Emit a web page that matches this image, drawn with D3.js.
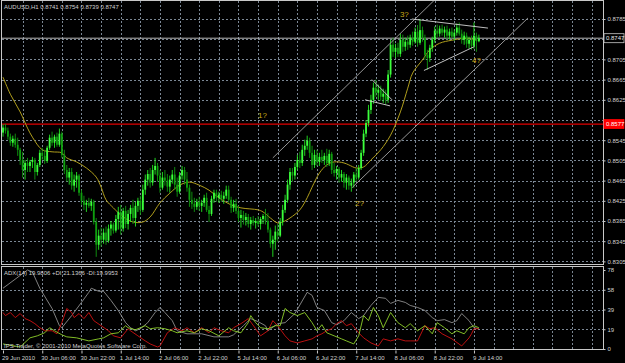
<!DOCTYPE html>
<html>
<head>
<meta charset="utf-8">
<title>AUDUSD,H1</title>
<script src="https://cdn.jsdelivr.net/npm/d3@7"></script>
<style>
  html, body { margin: 0; padding: 0; background: #000; }
  svg { display: block; }
  text { font-family: "Liberation Sans", Arial, sans-serif; font-size: 6px; fill: #d0d0d0; }
</style>
</head>
<body>
<svg id="chart" width="625" height="363"></svg>
<script>
// ========== values ==========
// H1 bars, bar 0 = 29 Jun 14:00, last bar = 9 Jul 16:00
var opens = [
  .8560,.8570,.8564,.8552,.8540,.8548,.8536,.8526,.8506,.8486,
  .8500,.8494,.8502,.8506,.8482,.8496,.8520,.8514,.8504,.8530,
  .8550,.8540,.8552,.8536,.8558,.8516,.8486,.8471,.8482,.8455,
  .8467,.8475,.8441,.8425,.8417,.8421,.8415,.8423,.8383,.8338,
  .8356,.8348,.8362,.8346,.8370,.8378,.8366,.8389,.8403,.8370,
  .8405,.8379,.8399,.8411,.8391,.8415,.8425,.8407,.8447,.8467,
  .8478,.8461,.8486,.8494,.8475,.8451,.8471,.8465,.8453,.8467,
  .8477,.8457,.8443,.8475,.8486,.8467,.8451,.8427,.8419,.8413,
  .8423,.8415,.8421,.8431,.8407,.8399,.8429,.8441,.8431,.8437,
  .8429,.8435,.8447,.8427,.8411,.8419,.8405,.8391,.8397,.8387,
  .8393,.8379,.8387,.8381,.8385,.8379,.8389,.8395,.8385,.8368,
  .8340,.8348,.8364,.8356,.8383,.8407,.8427,.8457,.8482,.8475,
  .8492,.8506,.8500,.8526,.8534,.8544,.8520,.8496,.8516,.8502,
  .8512,.8506,.8514,.8500,.8518,.8486,.8480,.8488,.8471,.8478,
  .8461,.8471,.8455,.8461,.8477,.8471,.8490,.8520,.8558,.8579,
  .8605,.8625,.8649,.8639,.8645,.8631,.8637,.8625,.8675,.8734,
  .8720,.8728,.8716,.8744,.8730,.8740,.8734,.8748,.8740,.8760,
  .8738,.8763,.8748,.8714,.8708,.8728,.8744,.8762,.8756,.8766,
  .8758,.8764,.8752,.8760,.8750,.8758,.8768,.8756,.8744,.8752,
  .8736,.8744,.8732,.8752,.8741];
var highs = [
  .8576,.8577,.8570,.8558,.8554,.8558,.8550,.8530,.8522,.8506,
  .8510,.8506,.8512,.8510,.8500,.8526,.8530,.8526,.8534,.8556,
  .8562,.8556,.8560,.8568,.8562,.8526,.8496,.8490,.8490,.8477,
  .8482,.8478,.8447,.8435,.8427,.8431,.8429,.8427,.8391,.8368,
  .8372,.8370,.8374,.8378,.8385,.8382,.8397,.8413,.8417,.8411,
  .8415,.8407,.8417,.8427,.8423,.8431,.8435,.8457,.8477,.8486,
  .8490,.8496,.8510,.8500,.8486,.8482,.8486,.8478,.8475,.8486,
  .8492,.8471,.8482,.8494,.8492,.8482,.8457,.8443,.8431,.8429,
  .8433,.8427,.8437,.8441,.8415,.8435,.8447,.8447,.8443,.8445,
  .8443,.8455,.8455,.8433,.8427,.8429,.8415,.8407,.8405,.8401,
  .8399,.8393,.8395,.8391,.8395,.8393,.8399,.8409,.8401,.8372,
  .8356,.8376,.8379,.8391,.8417,.8437,.8467,.8490,.8490,.8500,
  .8516,.8522,.8536,.8546,.8554,.8550,.8534,.8526,.8526,.8520,
  .8526,.8520,.8528,.8526,.8522,.8500,.8494,.8492,.8486,.8482,
  .8478,.8475,.8469,.8482,.8490,.8496,.8526,.8566,.8585,.8615,
  .8635,.8659,.8665,.8655,.8653,.8647,.8645,.8684,.8744,.8748,
  .8736,.8738,.8756,.8754,.8748,.8752,.8754,.8760,.8768,.8773,
  .8785,.8770,.8754,.8724,.8734,.8750,.8770,.8774,.8772,.8774,
  .8770,.8772,.8766,.8768,.8764,.8776,.8778,.8764,.8760,.8758,
  .8750,.8752,.8778,.8758,.8754];
var lows = [
  .8552,.8558,.8546,.8534,.8532,.8530,.8514,.8496,.8471,.8467,
  .8482,.8482,.8490,.8467,.8475,.8492,.8506,.8498,.8500,.8526,
  .8534,.8530,.8532,.8532,.8510,.8478,.8463,.8457,.8447,.8443,
  .8451,.8435,.8417,.8407,.8403,.8411,.8405,.8378,.8314,.8328,
  .8334,.8340,.8338,.8342,.8356,.8360,.8362,.8368,.8358,.8364,
  .8371,.8368,.8383,.8379,.8374,.8403,.8397,.8403,.8437,.8455,
  .8451,.8455,.8477,.8463,.8441,.8447,.8455,.8443,.8441,.8459,
  .8447,.8433,.8439,.8467,.8457,.8443,.8413,.8409,.8403,.8407,
  .8405,.8403,.8413,.8403,.8383,.8395,.8421,.8423,.8421,.8423,
  .8419,.8429,.8421,.8401,.8403,.8399,.8383,.8372,.8378,.8376,
  .8372,.8368,.8376,.8370,.8374,.8368,.8379,.8378,.8362,.8332,
  .8314,.8328,.8344,.8353,.8376,.8401,.8421,.8447,.8463,.8467,
  .8486,.8490,.8494,.8514,.8526,.8510,.8486,.8490,.8494,.8494,
  .8500,.8496,.8492,.8494,.8478,.8473,.8467,.8461,.8463,.8451,
  .8447,.8447,.8443,.8451,.8463,.8467,.8486,.8514,.8551,.8572,
  .8597,.8617,.8631,.8625,.8623,.8619,.8615,.8619,.8669,.8710,
  .8708,.8710,.8710,.8720,.8722,.8724,.8728,.8732,.8736,.8730,
  .8734,.8740,.8704,.8684,.8700,.8720,.8738,.8748,.8750,.8752,
  .8748,.8744,.8744,.8746,.8742,.8752,.8752,.8736,.8734,.8728,
  .8726,.8724,.8726,.8720,.8739];
var closes = [
  .8570,.8564,.8552,.8540,.8548,.8536,.8526,.8506,.8486,.8500,
  .8494,.8502,.8506,.8482,.8496,.8520,.8514,.8504,.8530,.8550,
  .8540,.8552,.8536,.8558,.8516,.8486,.8471,.8482,.8455,.8467,
  .8475,.8441,.8425,.8417,.8421,.8415,.8423,.8383,.8338,.8356,
  .8348,.8362,.8346,.8370,.8378,.8366,.8389,.8403,.8370,.8405,
  .8379,.8399,.8411,.8391,.8415,.8425,.8407,.8447,.8467,.8478,
  .8461,.8486,.8494,.8475,.8451,.8471,.8465,.8453,.8467,.8477,
  .8457,.8443,.8475,.8486,.8467,.8451,.8427,.8419,.8413,.8423,
  .8415,.8421,.8431,.8407,.8399,.8429,.8441,.8431,.8437,.8429,
  .8435,.8447,.8427,.8411,.8419,.8405,.8391,.8397,.8387,.8393,
  .8379,.8387,.8381,.8385,.8379,.8389,.8395,.8385,.8368,.8340,
  .8348,.8364,.8356,.8383,.8407,.8427,.8457,.8482,.8475,.8492,
  .8506,.8500,.8526,.8534,.8544,.8520,.8496,.8516,.8502,.8512,
  .8506,.8514,.8500,.8518,.8486,.8480,.8488,.8471,.8478,.8461,
  .8471,.8455,.8461,.8477,.8471,.8490,.8520,.8558,.8579,.8605,
  .8625,.8649,.8639,.8645,.8631,.8637,.8625,.8675,.8734,.8720,
  .8728,.8716,.8744,.8730,.8740,.8734,.8748,.8740,.8760,.8738,
  .8763,.8748,.8714,.8708,.8728,.8744,.8762,.8756,.8766,.8758,
  .8764,.8752,.8760,.8750,.8758,.8768,.8756,.8744,.8752,.8736,
  .8744,.8732,.8752,.8741,.8747];

// yellow moving average (bar index, price)
var maBars = [0,3,7,10,12,16,20,24,26,30,34,38,40,42,45,49,53,57,60,64,68,72,76,80,84,88,93,97,
  104,106,109,112,114,117,121,124,126,129,132,135,139,141,144,147,150,154,158,162,165,167,171,174,178,183,189,193];
var maVals = [.8670,.8636,.8601,.8569,.8551,.8526,.8522,.8520,.8510,.8502,.8490,.8472,.8452,.8427,.8411,.8393,.8383,.8383,
  .8393,.8421,.8440,.8456,.8462,.8456,.8446,.8431,.8417,.8411,
  .8407,.8403,.8391,.8381,.8383,.8391,.8407,.8431,.8452,.8480,.8496,.8502,.8500,.8496,.8490,.8492,.8506,.8526,.8555,
  .8601,.8648,.8678,.8704,.8724,.8737,.8743,.8747,.8743];

// ADX(14) window
var adxBars = [0,10,12,15,20,23,24,28,32,35,36,39,41,44,47,50,52,54,56,59,62,64,66,69,71,75,81,86,92,94,
  98,101,104,107,108,112,115,119,124,126,128,131,134,136,139,142,145,147,150,153,156,158,161,164,166,169,
  172,175,177,180,183,185,187,190,192,194];
var adxVals = [60,78,76,60,40,23,21,33,46,56,60,57,57,48,38,26,21,18,20,26,36,41,36,28,18,15,15,12,12,14,
  23,30,27,23,18,25,26,35,56,53,41,38,26,24,28,36,30,33,43,51,50,45,48,46,43,41,
  38,31,28,29,26,28,35,28,21,20];
var plusBars = [0,7,11,14,17,19,21,24,26,30,35,39,41,44,47,50,51,54,56,58,60,63,66,69,71,75,78,81,84,88,
  92,94,97,100,101,103,105,108,111,113,115,117,120,123,126,128,130,132,135,138,140,143,145,147,149,151,153,155,
  158,161,164,166,169,172,175,177,180,183,185,188,190,192,194];
var plusVals = [5,2,11,13,16,21,18,14,12,11,8,10,11,15,16,23,21,19,21,23,20,21,20,18,16,18,16,20,18,13,
  21,18,16,26,33,26,21,20,23,23,40,36,33,36,26,18,24,16,13,10,8,5,13,33,28,41,33,21,
  36,26,21,25,18,23,15,26,21,15,18,15,21,23,21];
var minusBars = [0,1,3,5,7,9,11,13,15,17,20,22,24,26,28,29,31,33,35,37,40,43,45,48,51,52,55,58,60,63,
  64,67,70,73,75,78,81,84,86,89,92,94,97,100,103,105,108,110,112,115,117,120,123,126,128,130,132,134,136,138,
  140,142,145,147,150,153,155,158,161,164,166,169,172,174,176,179,183,187,190,191,192,194];
var minusVals = [36,33,36,31,35,30,28,25,21,18,18,15,26,40,36,31,35,30,36,28,23,18,13,11,20,18,13,8,5,2,
  3,16,21,18,21,16,21,16,21,18,16,21,25,30,20,13,18,28,23,13,8,6,8,10,13,15,18,20,25,28,
  23,25,16,11,6,3,10,8,10,8,8,8,23,20,21,15,10,3,11,15,20,20];

// axis labels
var priceTicks = [0.8305,0.8345,0.8385,0.8425,0.8465,0.8505,0.8545,0.8585,0.8625,0.8665,0.8705,0.8745,0.8785];
var adxTicks = [0, 19.5, 39, 58.5, 78];
var timeBars = [0,16,32,48,64,80,96,112,128,144,160,176,192];
var timeLabels = ["29 Jun 2010","30 Jun 06:00","30 Jun 22:00","1 Jul 14:00","2 Jul 06:00","2 Jul 22:00",
  "5 Jul 14:00","6 Jul 06:00","6 Jul 22:00","7 Jul 14:00","8 Jul 06:00","8 Jul 22:00","9 Jul 14:00"];
// vertical grid every 8 bars, running on into the empty right-hand side
var gridBars = d3.range(8, 241, 8);

// levels and drawn objects
var redLevel = 0.8577;
var lastPrice = 0.8747;
// trend lines: [bar1, price1, bar2, price2]
var channelLines = [[110, .8510, 176, .8823], [142.3, .8451, 214, .8787]];
var triangleLines = [[150.4, .8665, 158.6, .8625], [147.6, .8625, 157.8, .8613],
  [166.7, .8785, 197.7, .8767], [171.6, .8683, 192, .8730]];
var waveText = ["1?","2?","3?","4?"];
var waveBars = [104, 143.5, 161.8, 191.2];
var wavePrices = [.8589, .8415, .8789, .8698];
// ===================================================

var plotL = 2, plotR = 603, mainT = 1, mainB = 265, adxT = 267, adxB = 350;

var x = d3.scaleLinear().domain([0, 194]).range([3, 3 + 194 * 2.453]);
var y = d3.scaleLinear().domain([0.8305, 0.8785]).range([261.4, 19]);
var ya = d3.scaleLinear().domain([0, 78]).range([349, 270]);

var svg = d3.select("#chart");
svg.append("rect").attr("width", 625).attr("height", 363).attr("fill", "#000");

var defs = svg.append("defs");
defs.append("clipPath").attr("id", "clipMain").append("rect")
  .attr("x", plotL).attr("y", mainT).attr("width", plotR - plotL).attr("height", mainB - mainT);
defs.append("clipPath").attr("id", "clipAdx").append("rect")
  .attr("x", plotL).attr("y", adxT).attr("width", plotR - plotL).attr("height", adxB - adxT);

var gridColor = "#7b8794";

// grid
var grid = svg.append("g").attr("stroke", gridColor).attr("stroke-dasharray", "2,2").attr("stroke-width", 1);
grid.selectAll(".hg").data(priceTicks).enter().append("line")
  .attr("x1", plotL).attr("x2", plotR)
  .attr("y1", d => Math.round(y(d)) + 0.5).attr("y2", d => Math.round(y(d)) + 0.5);
grid.selectAll(".ha").data(adxTicks.slice(1, 4)).enter().append("line")
  .attr("x1", plotL).attr("x2", plotR)
  .attr("y1", d => Math.round(ya(d)) + 0.5).attr("y2", d => Math.round(ya(d)) + 0.5);
grid.selectAll(".vg").data(gridBars).enter().append("line")
  .attr("x1", d => Math.round(x(d)) + 0.5).attr("x2", d => Math.round(x(d)) + 0.5)
  .attr("y1", mainT).attr("y2", mainB);
grid.selectAll(".va").data(gridBars).enter().append("line")
  .attr("x1", d => Math.round(x(d)) + 0.5).attr("x2", d => Math.round(x(d)) + 0.5)
  .attr("y1", adxT).attr("y2", adxB);

var main = svg.append("g").attr("clip-path", "url(#clipMain)");

// horizontal levels
main.append("line").attr("x1", plotL).attr("x2", plotR)
  .attr("y1", y(redLevel)).attr("y2", y(redLevel)).attr("stroke", "#e00000").attr("stroke-width", 1.3);
main.append("line").attr("x1", plotL).attr("x2", plotR)
  .attr("y1", y(lastPrice)).attr("y2", y(lastPrice)).attr("stroke", "#b8b8b8").attr("stroke-width", 1);

// moving average
var maLine = d3.line().x(d => x(d[0])).y(d => y(d[1])).curve(d3.curveCatmullRom);
main.append("path").datum(maBars.map((b, i) => [b, maVals[i]]))
  .attr("d", maLine).attr("fill", "none").attr("stroke", "#b09e1c").attr("stroke-width", 1);

// candles
var idx = d3.range(closes.length);
var candle = main.selectAll(".candle").data(idx).enter().append("g");
candle.append("line")
  .attr("x1", i => x(i)).attr("x2", i => x(i))
  .attr("y1", i => y(highs[i])).attr("y2", i => y(lows[i]))
  .attr("stroke", i => closes[i] >= opens[i] ? "#22e822" : "#119a11").attr("stroke-width", 0.9);
candle.append("rect")
  .attr("x", i => x(i) - 0.9).attr("width", 1.8)
  .attr("y", i => y(Math.max(opens[i], closes[i])))
  .attr("height", i => Math.max(0.8, Math.abs(y(opens[i]) - y(closes[i]))))
  .attr("fill", i => closes[i] >= opens[i] ? "#3cff3c" : "#0f9f0f");

// trend lines
main.selectAll(".chan").data(channelLines).enter().append("line")
  .attr("x1", d => x(d[0])).attr("y1", d => y(d[1])).attr("x2", d => x(d[2])).attr("y2", d => y(d[3]))
  .attr("stroke", "#a6a6a6").attr("stroke-width", 0.9);
main.selectAll(".tri").data(triangleLines).enter().append("line")
  .attr("x1", d => x(d[0])).attr("y1", d => y(d[1])).attr("x2", d => x(d[2])).attr("y2", d => y(d[3]))
  .attr("stroke", "#d4d4d4").attr("stroke-width", 0.9);

// wave labels
main.selectAll(".wave").data(waveText).enter().append("text")
  .attr("x", (d, i) => x(waveBars[i])).attr("y", (d, i) => y(wavePrices[i]))
  .style("fill", "#c8a614").style("font-size", "8px").text(d => d);

// ADX window
var adx = svg.append("g").attr("clip-path", "url(#clipAdx)");
var ind = d3.line().x(d => x(d[0])).y(d => ya(d[1]));
function series(bars, vals, color) {
  adx.append("path").datum(bars.map((b, i) => [b, vals[i]]))
    .attr("d", ind).attr("fill", "none").attr("stroke", color).attr("stroke-width", 0.9);
}
series(adxBars, adxVals, "#8e8e8e");
series(minusBars, minusVals, "#d01212");
series(plusBars, plusVals, "#8fd12a");

// frames
var frame = svg.append("g").attr("fill", "none").attr("stroke", "#c8c8c8").attr("stroke-width", 1);
frame.append("rect").attr("x", plotL - 0.5).attr("y", mainT - 0.5).attr("width", plotR - plotL + 1).attr("height", mainB - mainT);
frame.append("rect").attr("x", plotL - 0.5).attr("y", adxT - 0.5).attr("width", plotR - plotL + 1).attr("height", adxB - adxT);

function styleAxis(g) {
  g.select(".domain").remove();
  g.attr("font-size", null).attr("font-family", null);
  g.selectAll("line").attr("stroke", "#c8c8c8");
  g.selectAll("text").style("fill", "#d0d0d0").style("font-size", "6px");
}

// price axis (the 0.8745 and 0.8585 labels sit under the price tags)
svg.append("g").attr("transform", "translate(" + (plotR + 0.5) + ",0)")
  .call(d3.axisRight(y).tickValues(priceTicks.filter(d => d !== 0.8745 && d !== 0.8585))
    .tickFormat(d3.format(".4f")).tickSize(2).tickPadding(2))
  .call(styleAxis);

// price tags
function tag(price, bg, fg, border) {
  var t = svg.append("g").attr("transform", "translate(604," + y(price) + ")");
  t.append("rect").attr("x", 0).attr("y", -4.5).attr("width", 20).attr("height", 9)
    .attr("fill", bg).attr("stroke", border).attr("stroke-width", 0.8);
  t.append("text").attr("x", 2).attr("y", 2.2).style("fill", fg).style("font-size", "6px")
    .text(d3.format(".4f")(price));
}
tag(lastPrice, "#000", "#e8e8e8", "#c8c8c8");
tag(redLevel, "#ff0000", "#ffffff", "#ff0000");

// ADX axis
svg.append("g").attr("transform", "translate(" + (plotR + 0.5) + ",0)")
  .call(d3.axisRight(ya).tickValues(adxTicks).tickFormat(d => Math.floor(d)).tickSize(2).tickPadding(2))
  .call(styleAxis);

// time axis
var tAxis = svg.append("g").attr("transform", "translate(0," + (adxB + 0.5) + ")")
  .call(d3.axisBottom(x).tickValues(timeBars).tickFormat((d, i) => timeLabels[i]).tickSize(3).tickPadding(2))
  .call(styleAxis);
tAxis.selectAll("text").attr("text-anchor", "start").attr("x", -1.5);

// captions
svg.append("text").attr("x", 4).attr("y", 9).text("AUDUSD,H1  0.8741 0.8754 0.8739 0.8747");
svg.append("text").attr("x", 4).attr("y", 275).text("ADX(14) 19.9806 +DI:21.1366 -DI:19.9953");
svg.append("text").attr("x", 4).attr("y", 348).text("IPS-Trader, \u00a9 2001-2010 MetaQuotes Software Corp.");
</script>
</body>
</html>
